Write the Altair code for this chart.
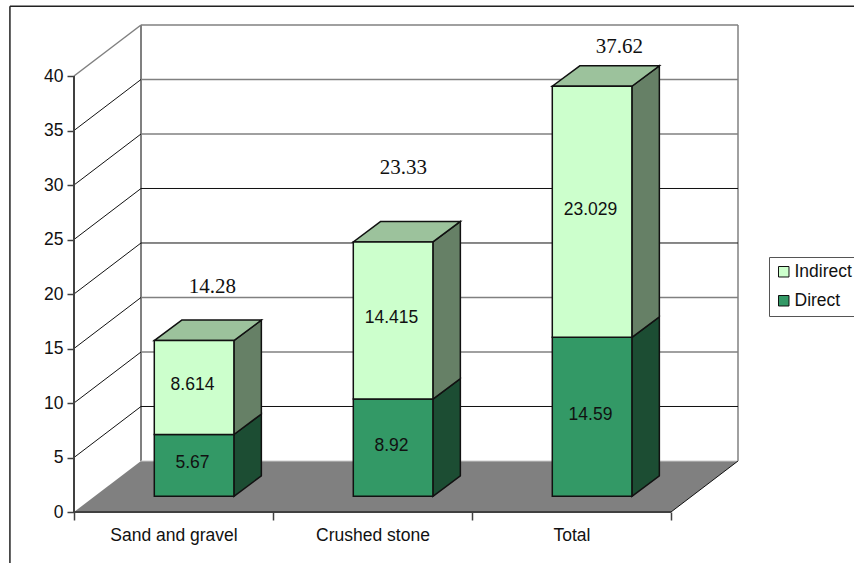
import altair as alt
import pandas as pd

# Chart values
categories = ["Sand and gravel", "Crushed stone", "Total"]
direct = [5.67, 8.92, 14.59]
indirect = [8.614, 14.415, 23.029]
totals = ["14.28", "23.33", "37.62"]
total_label_height = [20.6, 31.6, 42.7]
total_label_shift = [0.695, 0.655, 0.74]
y_ticks = [0, 5, 10, 15, 20, 25, 30, 35, 40]

# Oblique projection, in axis units (categories across, value units up)
WALL_DX, WALL_DY = 0.3367, 4.68
BAR_LEFT, BAR_WIDTH = 0.4035, 0.40
BAR_DX, BAR_DY = 0.138, 1.88
BAR_LIFT = 1.44
LABEL_NUDGE = 0.008
N = len(categories)
Y_TOP = max(y_ticks)

SANS = "Liberation Sans"
SERIF = "Liberation Serif"
FRONT = {"Indirect": "#CCFFCC", "Direct": "#339966"}
SIDE = {"Indirect": "#668066", "Direct": "#1C4D33"}
TOP_FACE = "#9CC29C"
INK = "#111111"
AXIS_INK = "#404040"
WALL_GRAY = "#808080"
DARK_GRID = {5, 20, 25}
TICK_FONT = 17.5

X_SCALE = alt.Scale(domain=[0, 3 + WALL_DX], zero=False, nice=False)
Y_SCALE = alt.Scale(domain=[0, Y_TOP + WALL_DY], zero=False, nice=False)

# Ticks fall between categories; labels sit at their centres
X_AXIS = alt.Axis(
    values=[0, 0.5, 1, 1.5, 2, 2.5, 3],
    labelExpr="datum.value % 1 == 0 ? '' : ["
    + ",".join(f"'{c}'" for c in categories)
    + "][floor(datum.value)]",
    title=None, domain=False, grid=False, tickSize=8, tickWidth=1.5, tickColor=AXIS_INK,
    tickOpacity={"condition": {"test": "datum.value % 1 == 0", "value": 1}, "value": 0},
    labelFont=SANS, labelFontSize=TICK_FONT, labelColor=INK, labelPadding=6,
    labelFlush=False, labelOverlap=False, labelAngle=0,
)
Y_AXIS = alt.Axis(
    values=y_ticks, title=None, domain=False, grid=False, tickSize=7, tickWidth=1.5,
    tickColor=AXIS_INK, labelFont=SANS, labelFontSize=TICK_FONT, labelColor=INK, labelPadding=4,
)


def ex(field="x"):
    return alt.X(f"{field}:Q", scale=X_SCALE, axis=X_AXIS)


def why(field="y"):
    return alt.Y(f"{field}:Q", scale=Y_SCALE, axis=Y_AXIS)


def segments(rows, color, width):
    frame = pd.DataFrame(rows, columns=["x", "y", "x2", "y2"])
    return alt.Chart(frame).mark_rule(color=color, strokeWidth=width).encode(
        x=ex(), y=why(), x2="x2:Q", y2="y2:Q"
    )


# Floor of the box
floor = alt.Chart(pd.DataFrame({
    "y": [0, WALL_DY], "x": [0, WALL_DX], "x2": [N, N + WALL_DX],
})).mark_area(orient="horizontal", color=WALL_GRAY).encode(y=why(), x=ex(), x2="x2:Q")

# Walls and gridlines
levels = y_ticks[1:]
gray_back = [(WALL_DX, v + WALL_DY, N + WALL_DX, v + WALL_DY) for v in levels if v not in DARK_GRID]
dark_back = [(WALL_DX, v + WALL_DY, N + WALL_DX, v + WALL_DY) for v in levels if v in DARK_GRID]
side_grid = [(0, v, WALL_DX, v + WALL_DY) for v in levels if v != Y_TOP]
walls = [
    segments([(WALL_DX, WALL_DY, WALL_DX, Y_TOP + WALL_DY)], WALL_GRAY, 2),
    segments([(N + WALL_DX, WALL_DY, N + WALL_DX, Y_TOP + WALL_DY)], WALL_GRAY, 1.5),
    segments(gray_back, WALL_GRAY, 1.5),
    segments(dark_back, INK, 1),
    segments(side_grid, INK, 1),
    segments([(0, Y_TOP, WALL_DX, Y_TOP + WALL_DY)], WALL_GRAY, 1.5),
    segments([(WALL_DX, WALL_DY, N + WALL_DX, WALL_DY)], "#CCCCCC", 1),
    segments([(N, 0, N + WALL_DX, WALL_DY)], INK, 1),
    segments([(0, 0, N, 0)], AXIS_INK, 2),
    segments([(0, 0, 0, Y_TOP)], AXIS_INK, 2),
]

# Stacked segments of each bar
records = []
for i, cat in enumerate(categories):
    base = 0.0
    for series, vals in (("Direct", direct), ("Indirect", indirect)):
        records.append({
            "cat": cat, "series": series, "value": vals[i],
            "left": i + BAR_LEFT, "right": i + BAR_LEFT + BAR_WIDTH,
            "low": BAR_LIFT + base, "high": BAR_LIFT + base + vals[i],
        })
        base += vals[i]
bars = pd.DataFrame(records)
bars["mid_x"] = (bars["left"] + bars["right"]) / 2 - LABEL_NUDGE
bars["mid_y"] = (bars["low"] + bars["high"]) / 2 + 0.2

side_layers = []
for series in ("Direct", "Indirect"):
    rows = []
    for _, b in bars[bars["series"] == series].iterrows():
        rows.append({"cat": b["cat"], "x": b["right"], "y": b["low"], "y2": b["high"]})
        rows.append({"cat": b["cat"], "x": b["right"] + BAR_DX, "y": b["low"] + BAR_DY, "y2": b["high"] + BAR_DY})
    side_layers.append(
        alt.Chart(pd.DataFrame(rows)).mark_area(
            color=SIDE[series], stroke=INK, strokeWidth=1.5, strokeJoin="miter"
        ).encode(x=ex(), y=why(), y2="y2:Q", detail="cat:N")
    )

top_rows = []
for _, b in bars[bars["series"] == "Indirect"].iterrows():
    top_rows.append({"cat": b["cat"], "y": b["high"], "x": b["left"], "x2": b["right"]})
    top_rows.append({"cat": b["cat"], "y": b["high"] + BAR_DY, "x": b["left"] + BAR_DX, "x2": b["right"] + BAR_DX})
top_faces = alt.Chart(pd.DataFrame(top_rows)).mark_area(
    orient="horizontal", color=TOP_FACE, stroke=INK, strokeWidth=1.5, strokeJoin="miter"
).encode(x=ex(), y=why(), x2="x2:Q", detail="cat:N")

fronts = alt.Chart(bars).mark_rect(stroke=INK, strokeWidth=1.5).encode(
    x=ex("left"),
    x2="right:Q",
    y=why("low"),
    y2="high:Q",
    fill=alt.Fill(
        "series:N",
        scale=alt.Scale(domain=["Indirect", "Direct"], range=[FRONT["Indirect"], FRONT["Direct"]]),
        legend=alt.Legend(
            title=None, orient="none", legendX=695, legendY=232, fillColor="white",
            strokeColor="#555555", padding=6, symbolType="square", symbolSize=110,
            symbolStrokeColor=INK, symbolStrokeWidth=1, labelFont=SANS, labelFontSize=TICK_FONT,
            labelColor=INK, rowPadding=10, labelOffset=2,
        ),
    ),
)

value_labels = alt.Chart(bars).mark_text(font=SANS, fontSize=TICK_FONT, color=INK).encode(
    x=ex("mid_x"),
    y=why("mid_y"),
    text=alt.Text("value:Q", format=".5~f"),
)

total_frame = pd.DataFrame({
    "label": totals,
    "x": [i + s for i, s in enumerate(total_label_shift)],
    "y": total_label_height,
})
total_labels = alt.Chart(total_frame).mark_text(font=SERIF, fontSize=21, color=INK).encode(
    x=ex(), y=why(), text="label:N"
)

# Frame around the chart, running off the canvas at the right and bottom
frame_lines = [
    segments([(-0.322, 46.4, 4.0, 46.4)], "#222222", 1.5),
    segments([(-0.322, 46.4, -0.322, -5)], "#222222", 1.5),
]

chart = alt.layer(
    *frame_lines, floor, *walls, *side_layers, top_faces, fronts,
    value_labels, total_labels,
).properties(
    width=664,
    height=487,
    padding={"left": 74, "top": 25, "right": 116, "bottom": 51},
    autosize="none",
    background="white",
).configure_view(stroke=None)

chart.save("out.html", embed_options={"renderer": "svg", "actions": False})
